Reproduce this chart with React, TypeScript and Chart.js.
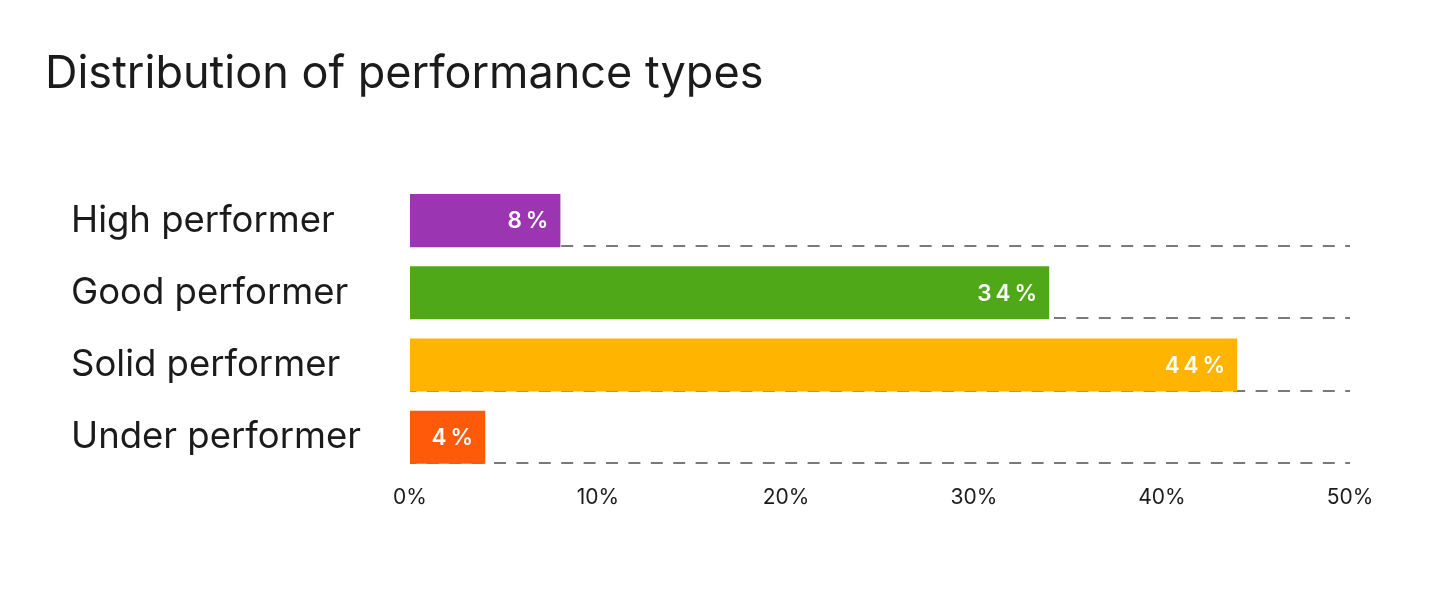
import React, { useEffect, useRef } from "react";
import { Chart, registerables } from "chart.js";

Chart.register(...registerables);

const titleText = "Distribution of performance types";
const categories = ["High performer", "Good performer", "Solid performer", "Under performer"];
const values = [8, 34, 44, 4];
const barColors = ["#9B35B1", "#4FA817", "#FFB400", "#FF5A0A"];
const xTicks = [0, 10, 20, 30, 40, 50];

const FONT = "Inter, 'Noto Sans', sans-serif";

const dashedRowLines = {
  id: "dashedRowLines",
  beforeDatasetsDraw(chart: any) {
    const { ctx, chartArea } = chart;
    const meta = chart.getDatasetMeta(0);
    ctx.save();
    ctx.strokeStyle = "#7a7a7a";
    ctx.lineWidth = 2;
    ctx.setLineDash([12, 10.4]);
    ctx.lineDashOffset = 5.6;
    meta.data.forEach((bar: any) => {
      const y = Math.round(bar.y + bar.height / 2) - 1;
      ctx.beginPath();
      ctx.moveTo(chartArea.left, y);
      ctx.lineTo(chartArea.right, y);
      ctx.stroke();
    });
    ctx.restore();
  },
};

const barValueLabels = {
  id: "barValueLabels",
  afterDatasetsDraw(chart: any) {
    const { ctx } = chart;
    const meta = chart.getDatasetMeta(0);
    const ds = chart.data.datasets[0];
    ctx.save();
    ctx.fillStyle = "#ffffff";
    ctx.font = `600 22.5px ${FONT}`;
    (ctx as any).letterSpacing = "4px";
    ctx.textAlign = "right";
    ctx.textBaseline = "middle";
    meta.data.forEach((bar: any, i: number) => {
      const label = `${ds.data[i]}%`;
      ctx.fillText(label, bar.x - 8, bar.y + 1);
    });
    ctx.restore();
  },
};

const shiftTitle = {
  id: "shiftTitle",
  afterLayout(chart: any) {
    if (chart.titleBlock) {
      chart.titleBlock.left = 45;
    }
  },
};

export default function App() {
  const ref = useRef<HTMLCanvasElement | null>(null);

  useEffect(() => {
    if (!ref.current) return;
    const chart = new Chart(ref.current, {
      type: "bar",
      data: {
        labels: categories,
        datasets: [
          {
            data: values,
            backgroundColor: barColors,
            borderWidth: 0,
            barPercentage: 0.736,
            categoryPercentage: 1,
          },
        ],
      },
      options: {
        indexAxis: "y",
        animation: false,
        responsive: false,
        maintainAspectRatio: false,
        layout: { padding: { left: 71, right: 90, top: 0, bottom: 73.5 } },
        plugins: {
          legend: { display: false },
          tooltip: { enabled: false },
          title: {
            display: true,
            text: titleText,
            align: "start",
            color: "#1b1b1b",
            font: { family: FONT, size: 45, weight: "400" as any, lineHeight: 1.2 },
            padding: { top: 47, bottom: 83.5 },
          },
        },
        scales: {
          x: {
            min: 0,
            max: 50,
            afterBuildTicks(scale: any) {
              scale.ticks = xTicks.map((v) => ({ value: v }));
            },
            grid: { display: false, drawTicks: false },
            border: { display: false },
            ticks: {
              padding: 12,
              color: "#1b1b1b",
              font: { family: FONT, size: 21 },
              callback: (v: any) => `${v}%`,
            },
          },
          y: {
            grid: { display: false, drawTicks: false },
            border: { display: false },
            afterFit(scale: any) {
              scale.width = 410 - 71;
            },
            ticks: {
              crossAlign: "far",
              color: "#1b1b1b",
              font: { family: FONT, size: 36.5 },
            },
          },
        },
      },
      plugins: [dashedRowLines, barValueLabels, shiftTitle],
    });
    return () => chart.destroy();
  }, []);

  return (
    <div style={{ position: "absolute", left: 0, top: 0, width: 1440, height: 596, background: "#fff" }}>
      <canvas ref={ref} width={1440} height={596} style={{ width: 1440, height: 596, display: "block" }} />
    </div>
  );
}
